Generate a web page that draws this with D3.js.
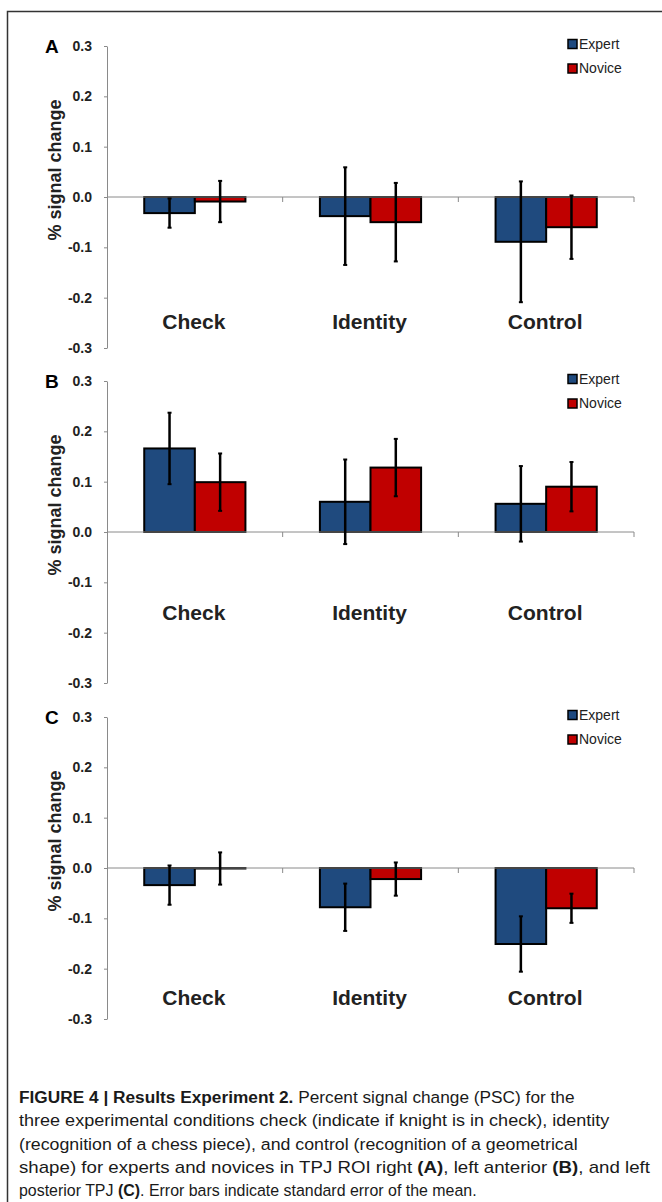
<!DOCTYPE html>
<html>
<head>
<meta charset="utf-8">
<script src="https://cdn.jsdelivr.net/npm/d3@7"></script>
<style>
  body { margin: 0; background: #fff; }
  svg { display: block; }
</style>
</head>
<body>
<svg id="fig" width="662" height="1202"></svg>
<script>
const categories = ["Check", "Identity", "Control"];
const groups = ["Expert", "Novice"];
const panelNames = ["A", "B", "C"];
const yTicks = [-0.3, -0.2, -0.1, 0.0, 0.1, 0.2, 0.3];

// percent signal change, mean and standard error
const expertA = [-0.032, -0.038, -0.089];
const expertSeA = [0.029, 0.097, 0.120];
const noviceA = [-0.009, -0.050, -0.060];
const noviceSeA = [0.041, 0.078, 0.063];

const expertB = [0.166, 0.060, 0.056];
const expertSeB = [0.071, 0.084, 0.075];
const noviceB = [0.099, 0.128, 0.090];
const noviceSeB = [0.057, 0.057, 0.049];

const expertC = [-0.034, -0.078, -0.151];
const expertSeC = [0.039, 0.047, 0.055];
const noviceC = [-0.001, -0.022, -0.080];
const noviceSeC = [0.032, 0.033, 0.029];

// where the category names sit on each panel's value axis
const labelLevel = [-0.247, -0.160, -0.258];

const captionLines = [
  [["FIGURE 4 | Results Experiment 2.", true], [" Percent signal change (PSC) for the", false]],
  [["three experimental conditions check (indicate if knight is in check), identity", false]],
  [["(recognition of a chess piece), and control (recognition of a geometrical", false]],
  [["shape) for experts and novices in TPJ ROI right ", false], ["(A)", true], [", left anterior ", false], ["(B)", true], [", and left", false]],
  [["posterior TPJ ", false], ["(C)", true], [". Error bars indicate standard error of the mean.", false]]
];

const colors = { Expert: "#1f4a7e", Novice: "#c00000" };
const font = "'Liberation Sans', Arial, sans-serif";

const panels = [
  { name: panelNames[0], expert: expertA, expertSe: expertSeA, novice: noviceA, noviceSe: noviceSeA },
  { name: panelNames[1], expert: expertB, expertSe: expertSeB, novice: noviceB, noviceSe: noviceSeB },
  { name: panelNames[2], expert: expertC, expertSe: expertSeC, novice: noviceC, noviceSe: noviceSeC }
];

const svg = d3.select("#fig");

// outer frame (right and bottom run off the page)
svg.append("rect")
  .attr("x", 7.5).attr("y", 11.5)
  .attr("width", 700).attr("height", 1300)
  .attr("fill", "none")
  .attr("stroke", "#333")
  .attr("stroke-width", 1.5);

const panelTop = [46, 381, 717];
const axisH = 302;
const xLeft = 107, xRight = 634;

const x = d3.scaleBand().domain(categories).range([xLeft, xRight]);
const xg = d3.scaleBand().domain(groups).range([0, x.bandwidth()]).paddingOuter(0.736);

panels.forEach((p, i) => {
  const top = panelTop[i];
  const y = d3.scaleLinear().domain([-0.3, 0.3]).range([top + axisH, top]);
  const g = svg.append("g");

  const rows = categories.flatMap((c, j) => [
    { cat: c, grp: "Expert", v: p.expert[j], se: p.expertSe[j] },
    { cat: c, grp: "Novice", v: p.novice[j], se: p.noviceSe[j] }
  ]);

  // y axis
  g.append("g")
    .attr("transform", `translate(${xLeft},0)`)
    .call(d3.axisLeft(y).tickValues(yTicks).tickSize(3).tickSizeOuter(0).tickPadding(12)
      .tickFormat(d => d.toFixed(1)))
    .call(a => a.selectAll("path, line").attr("stroke", "#8a8a8a"))
    .call(a => a.selectAll("text")
      .attr("font-family", font).attr("font-size", 14).attr("font-weight", "bold")
      .attr("fill", "#222"));

  // bars
  g.selectAll("rect.bar").data(rows).join("rect")
    .attr("class", "bar")
    .attr("x", d => x(d.cat) + xg(d.grp))
    .attr("width", xg.bandwidth())
    .attr("y", d => Math.min(y(d.v), y(0)))
    .attr("height", d => Math.abs(y(d.v) - y(0)))
    .attr("fill", d => colors[d.grp])
    .attr("stroke", "#000")
    .attr("stroke-width", 2);

  // x axis at zero with ticks at category borders
  g.append("line")
    .attr("x1", xLeft).attr("x2", xRight)
    .attr("y1", y(0)).attr("y2", y(0))
    .attr("stroke", "#8a8a8a");
  g.selectAll("line.xt").data(categories).join("line")
    .attr("class", "xt")
    .attr("x1", d => x(d) + x.bandwidth()).attr("x2", d => x(d) + x.bandwidth())
    .attr("y1", y(0)).attr("y2", y(0) + 5)
    .attr("stroke", "#8a8a8a");

  // error bars
  const eb = g.selectAll("g.eb").data(rows).join("g").attr("class", "eb");
  const cx = d => x(d.cat) + xg(d.grp) + xg.bandwidth() / 2;
  eb.append("line")
    .attr("x1", cx).attr("x2", cx)
    .attr("y1", d => y(d.v + d.se)).attr("y2", d => y(d.v - d.se))
    .attr("stroke", "#000").attr("stroke-width", 2.5);
  [1, -1].forEach(s => {
    eb.append("line")
      .attr("x1", d => cx(d) - 2).attr("x2", d => cx(d) + 2)
      .attr("y1", d => y(d.v + s * d.se)).attr("y2", d => y(d.v + s * d.se))
      .attr("stroke", "#000").attr("stroke-width", 2);
  });

  // category names
  g.selectAll("text.cat").data(categories).join("text")
    .attr("class", "cat")
    .attr("x", d => x(d) + x.bandwidth() / 2 - 1)
    .attr("y", y(labelLevel[i]))
    .attr("dy", "0.35em")
    .attr("text-anchor", "middle")
    .attr("font-family", font).attr("font-size", 21).attr("font-weight", "bold")
    .attr("fill", "#222")
    .text(d => d);

  // panel letter
  g.append("text")
    .attr("x", 45).attr("y", top).attr("dy", "0.35em")
    .attr("font-family", font).attr("font-size", 19).attr("font-weight", "bold")
    .text(p.name);

  // y title
  g.append("text")
    .attr("transform", `translate(55,${top + 124}) rotate(-90)`)
    .attr("dy", "0.35em")
    .attr("text-anchor", "middle")
    .attr("font-family", font).attr("font-size", 18).attr("font-weight", "bold")
    .attr("fill", "#222")
    .text("% signal change");

  // legend
  const lg = g.selectAll("g.lg").data(groups).join("g")
    .attr("class", "lg")
    .attr("transform", (d, k) => `translate(568,${top - 2 + k * 24.5})`);
  lg.append("rect")
    .attr("x", 0).attr("y", -4.5).attr("width", 9).attr("height", 9)
    .attr("fill", d => colors[d]).attr("stroke", "#000").attr("stroke-width", 1.5);
  lg.append("text")
    .attr("x", 11).attr("dy", "0.35em")
    .attr("font-family", font).attr("font-size", 14)
    .attr("fill", "#222")
    .text(d => d);
});

// caption: each line squeezed horizontally to the reference width (narrow face)
const capWidths = [556, 591, 559, 631, 458];
const cap = svg.selectAll("text.cap").data(captionLines).join("text")
  .attr("class", "cap")
  .attr("font-family", font).attr("font-size", 17)
  .attr("fill", "#1a1a1a");
cap.selectAll("tspan").data(d => d).join("tspan")
  .attr("font-weight", d => d[1] ? "bold" : "normal")
  .text(d => d[0]);
cap.attr("transform", function(d, k) {
  const w = this.getComputedTextLength();
  return `translate(19,${1103 + k * 23.3}) scale(${capWidths[k] / w},1)`;
});
</script>
</body>
</html>
